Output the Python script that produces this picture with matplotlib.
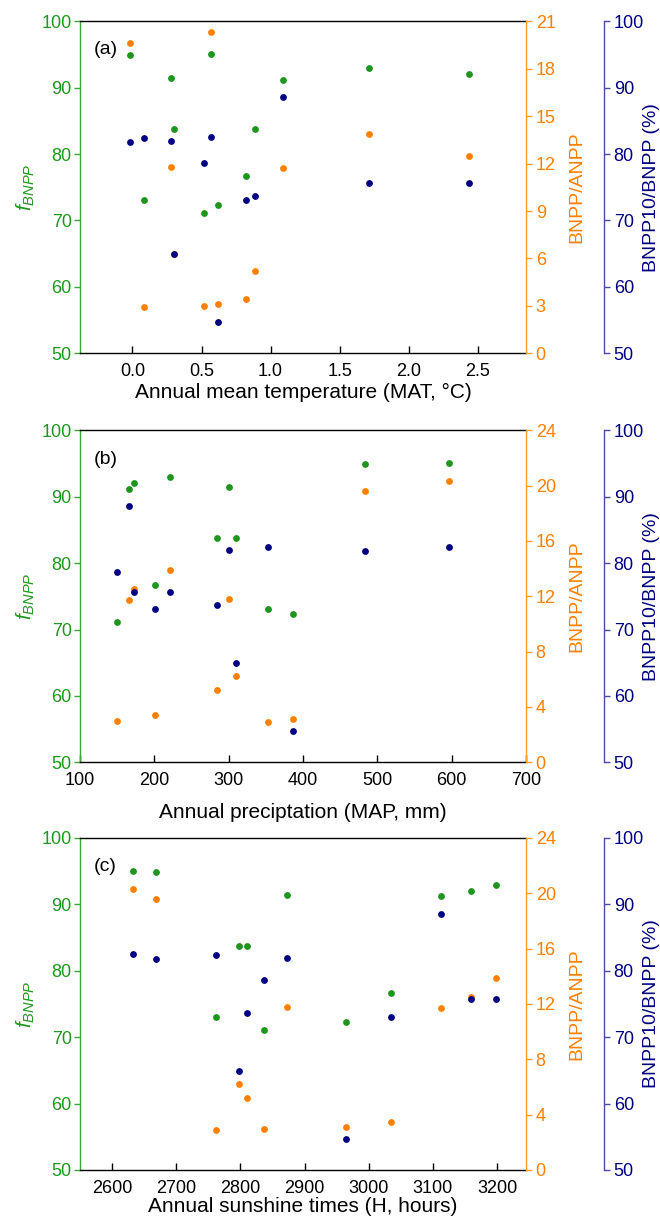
import matplotlib
matplotlib.use("Agg")
import matplotlib.pyplot as plt

plt.rcParams['font.family'] = ['Liberation Sans', 'DejaVu Sans']
plt.rcParams['mathtext.fontset'] = 'custom'
plt.rcParams['mathtext.it'] = 'Liberation Sans:italic'
plt.rcParams['mathtext.rm'] = 'Liberation Sans'

# one value per site (12 sites)
mat = [0.52, 1.09, 2.44, 0.82, 1.71, 0.89, 0.28, 0.30, 0.08, 0.62, -0.02, 0.57]
map_mm = [150, 166, 172, 201, 221, 284, 301, 310, 353, 386, 483, 597]
sun_h = [2837, 3112, 3160, 3034, 3199, 2811, 2873, 2798, 2762, 2965, 2668, 2633]

f_bnpp = [71.1, 91.2, 92.0, 76.7, 92.9, 83.8, 91.4, 83.8, 73.1, 72.3, 94.9, 95.1]
bnpp_anpp = [3.0, 11.7, 12.5, 3.45, 13.9, 5.2, 11.8, 6.25, 2.9, 3.1, 19.6, 20.3]
bnpp10 = [78.6, 88.6, 75.7, 73.1, 75.7, 73.7, 82.0, 64.9, 82.4, 54.7, 81.8, 82.5]

GREEN = '#1e961e'
ORANGE = '#ff8000'
NAVY = '#000080'
GREEN_SP = '#3aa53a'
ORANGE_SP = '#ff9a33'
NAVY_SP = '#4a4aa8'

panels = [
    dict(x=mat, tag='(a)', xlabel='Annual mean temperature (MAT, \u00b0C)',
         xlim=(-0.38, 2.85), xticks=[0.0, 0.5, 1.0, 1.5, 2.0, 2.5], xfmt='{:.1f}',
         rlim=(0, 21), rticks=range(0, 22, 3), bottom=1 - 353.3 / 1216, pad=2),
    dict(x=map_mm, tag='(b)', xlabel='Annual preciptation (MAP, mm)',
         xlim=(100, 700), xticks=range(100, 701, 100), xfmt='{:d}',
         rlim=(0, 24), rticks=range(0, 25, 4), bottom=1 - 762.3 / 1216, pad=10),
    dict(x=sun_h, tag='(c)', xlabel='Annual sunshine times (H, hours)',
         xlim=(2550, 3245), xticks=range(2600, 3201, 100), xfmt='{:d}',
         rlim=(0, 24), rticks=range(0, 25, 4), bottom=1 - 1170 / 1216, pad=0),
]

fig = plt.figure(figsize=(6.6, 12.16), dpi=100)
FS = 13

for p in panels:
    ax = fig.add_axes([80 / 660, p['bottom'], 446 / 660, 332 / 1216])
    ax2 = ax.twinx()
    ax3 = ax.twinx()

    ax.scatter(p['x'], f_bnpp, s=24, color=GREEN, linewidths=0, zorder=3)
    ax2.scatter(p['x'], bnpp_anpp, s=24, color=ORANGE, linewidths=0, zorder=3)
    ax3.scatter(p['x'], bnpp10, s=24, color=NAVY, linewidths=0, zorder=3)

    ax.set_xlim(*p['xlim'])
    ax.set_xticks(list(p['xticks']))
    ax.set_xticklabels([p['xfmt'].format(v) for v in p['xticks']], fontsize=FS)
    ax.tick_params(axis='x', direction='in', length=5, width=1, pad=7)
    ax.set_xlabel(p['xlabel'], fontsize=FS + 2, labelpad=p['pad'])

    ax.set_ylim(50, 100)
    ax.set_yticks(range(50, 101, 10))
    ax.tick_params(axis='y', direction='out', length=4, width=1,
                   colors=GREEN_SP, labelcolor=GREEN, labelsize=FS, pad=2)
    ax.set_ylabel(r'$f_{BNPP}$', color=GREEN, fontsize=FS + 2)
    ax.yaxis.set_label_coords(-0.096, 0.5)

    ax2.set_ylim(*p['rlim'])
    ax2.set_yticks(list(p['rticks']))
    ax2.tick_params(axis='y', direction='out', length=4, width=1,
                    colors=ORANGE_SP, labelcolor=ORANGE, labelsize=FS, pad=3)
    ax2.set_ylabel('BNPP/ANPP', color=ORANGE, fontsize=FS + 1)
    ax2.yaxis.set_label_coords(1.096, 0.5)

    # third axis: offset 78 px to the right of the plot frame
    ax3.spines['right'].set_position(('outward', 78 * 72 / 100))
    ax3.set_ylim(50, 100)
    ax3.set_yticks(range(50, 101, 10))
    ax3.tick_params(axis='y', direction='out', length=4, width=1,
                    colors=NAVY_SP, labelcolor=NAVY, labelsize=FS, pad=3)
    ax3.set_ylabel('BNPP10/BNPP (%)', color=NAVY, fontsize=FS + 1)
    ax3.yaxis.set_label_coords(1.262, 0.5)

    for a in (ax, ax2, ax3):
        for s in a.spines.values():
            s.set_linewidth(1.0)
    ax.spines['left'].set_color(GREEN_SP)
    ax.spines['right'].set_visible(False)
    ax.spines['top'].set_color('black')
    ax.spines['bottom'].set_color('black')
    for a in (ax2, ax3):
        a.spines['left'].set_visible(False)
        a.spines['top'].set_visible(False)
        a.spines['bottom'].set_visible(False)
    ax2.spines['right'].set_color(ORANGE_SP)
    ax3.spines['right'].set_color(NAVY_SP)

    ax.text(0.03, 0.90, p['tag'], transform=ax.transAxes, fontsize=FS + 1)

fig.savefig('out.png', dpi=100)
